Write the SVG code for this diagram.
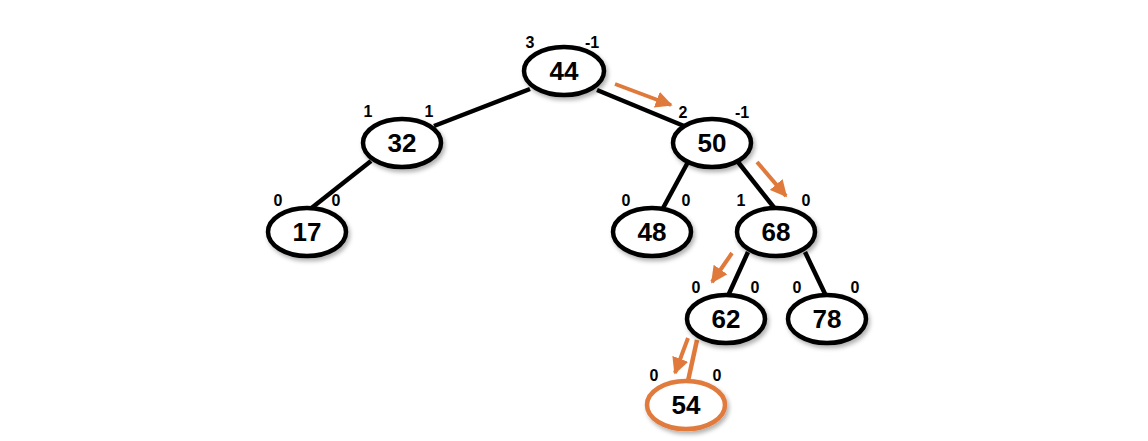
<svg xmlns="http://www.w3.org/2000/svg" width="1148" height="441" viewBox="0 0 1148 441">
<defs>
<filter id="sh" x="-20%" y="-20%" width="150%" height="160%">
<feDropShadow dx="2" dy="3" stdDeviation="2" flood-color="#000" flood-opacity="0.3"/>
</filter>
<marker id="ah" viewBox="0 0 10 10" refX="9" refY="5" markerWidth="4.2" markerHeight="4.2" orient="auto" markerUnits="strokeWidth">
<path d="M0,0 L10,5 L0,10 z" fill="#E07A3C"/>
</marker>
<style>
.n ellipse{fill:#fff;stroke:#000;stroke-width:4.5;filter:url(#sh)}
.n.hl ellipse{stroke:#E07A3C}
.n text{font-family:"Liberation Sans",Arial,sans-serif;font-weight:bold;font-size:26px;text-anchor:middle;fill:#000}
.b{font-family:"Liberation Sans",Arial,sans-serif;font-weight:bold;font-size:16px;text-anchor:middle;fill:#000}
.e line{stroke:#000;stroke-width:4.5}
.e line.o{stroke:#E07A3C}
.a line{stroke:#E07A3C;stroke-width:4;marker-end:url(#ah)}
</style>
</defs>
<rect width="1148" height="441" fill="#fff"/>
<g id="edges" class="e">
<line x1="530" y1="89" x2="434" y2="126"/>
<line x1="597" y1="90" x2="684" y2="126"/>
<line x1="371" y1="161" x2="309" y2="210"/>
<line x1="688" y1="162" x2="662" y2="210"/>
<line x1="738" y1="162" x2="776" y2="210"/>
<line x1="748" y1="252" x2="727" y2="298"/>
<line x1="805" y1="252" x2="827" y2="298"/>
<line class="o" x1="697" y1="340" x2="688" y2="381"/>
</g>
<g id="arrows" class="a">
<line x1="615" y1="84" x2="671" y2="105"/>
<line x1="757" y1="162" x2="786" y2="196"/>
<line x1="732" y1="253" x2="712" y2="282"/>
<line x1="688" y1="338" x2="675" y2="373"/>
</g>
<g id="n44" class="n"><ellipse cx="564" cy="71" rx="40" ry="24"/><text x="564" y="80">44</text></g>
<g id="n32" class="n"><ellipse cx="402" cy="143" rx="39" ry="24"/><text x="402" y="152">32</text></g>
<g id="n50" class="n"><ellipse cx="712" cy="143" rx="39" ry="24"/><text x="712" y="152">50</text></g>
<g id="n17" class="n"><ellipse cx="307" cy="232" rx="39" ry="24"/><text x="307" y="241">17</text></g>
<g id="n48" class="n"><ellipse cx="652" cy="232" rx="39" ry="24"/><text x="652" y="241">48</text></g>
<g id="n68" class="n"><ellipse cx="776" cy="232" rx="39" ry="24"/><text x="776" y="241">68</text></g>
<g id="n62" class="n"><ellipse cx="726" cy="319" rx="39" ry="24"/><text x="726" y="328">62</text></g>
<g id="n78" class="n"><ellipse cx="827" cy="319" rx="39" ry="24"/><text x="827" y="328">78</text></g>
<g id="n54" class="n hl"><ellipse cx="686" cy="405" rx="39" ry="24"/><text x="686" y="414">54</text></g>
<g id="labels">
<text class="b" x="530" y="48">3</text><text class="b" x="592" y="48">-1</text>
<text class="b" x="368" y="117">1</text><text class="b" x="429" y="117">1</text>
<text class="b" x="683" y="118">2</text><text class="b" x="742" y="118">-1</text>
<text class="b" x="278" y="206">0</text><text class="b" x="336" y="206">0</text>
<text class="b" x="626" y="206">0</text><text class="b" x="686" y="206">0</text>
<text class="b" x="741" y="206">1</text><text class="b" x="806" y="206">0</text>
<text class="b" x="696" y="293">0</text><text class="b" x="755" y="293">0</text>
<text class="b" x="797" y="293">0</text><text class="b" x="855" y="293">0</text>
<text class="b" x="654" y="381">0</text><text class="b" x="717" y="381">0</text>
</g>
</svg>
